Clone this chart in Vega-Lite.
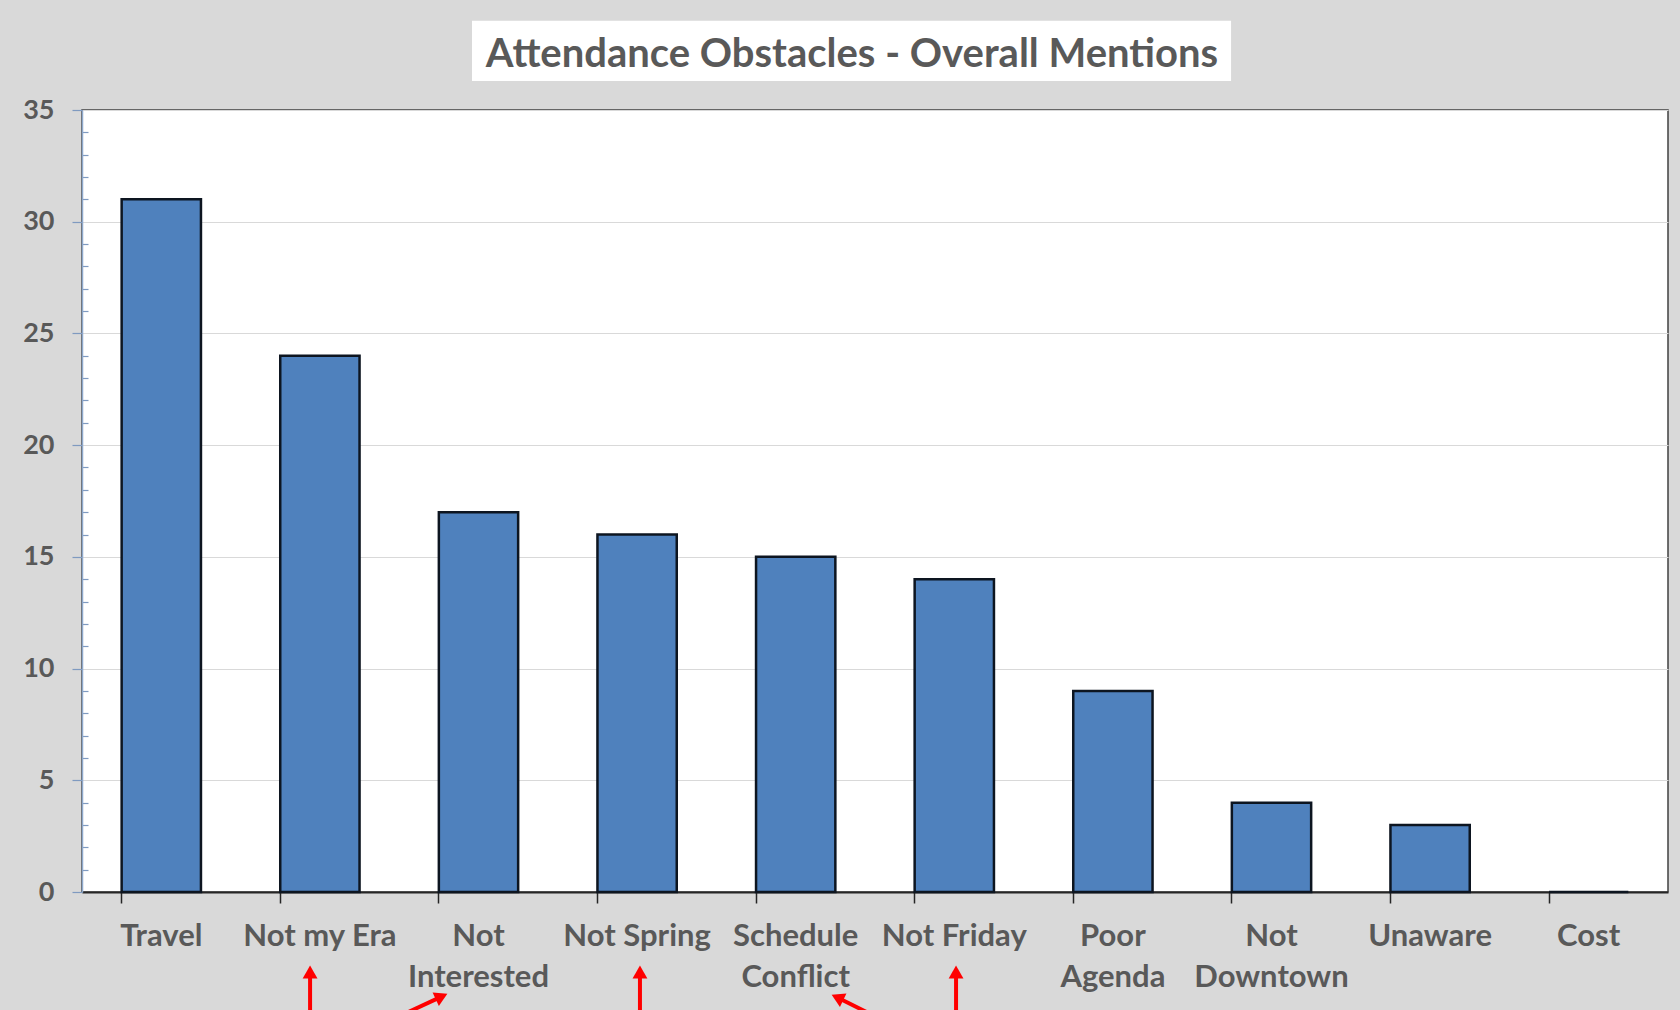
{
  "$schema": "https://vega.github.io/schema/vega-lite/v6.json",
  "width": 1586,
  "height": 782,
  "autosize": "none",
  "padding": {"left": 82, "top": 110, "right": 12, "bottom": 118},
  "background": "#D9D9D9",
  "title": {
    "text": "Attendance Obstacles - Overall Mentions",
    "font": "Lato",
    "fontWeight": "bold",
    "fontSize": 40,
    "color": "#595959",
    "anchor": "middle",
    "frame": "group",
    "offset": -54,
    "dx": -23
  },
  "datasets": {
    "bars": [
      {"obstacle": "Travel", "mentions": 31},
      {"obstacle": "Not my Era", "mentions": 24},
      {"obstacle": "Not Interested", "mentions": 17},
      {"obstacle": "Not Spring", "mentions": 16},
      {"obstacle": "Schedule Conflict", "mentions": 15},
      {"obstacle": "Not Friday", "mentions": 14},
      {"obstacle": "Poor Agenda", "mentions": 9},
      {"obstacle": "Not Downtown", "mentions": 4},
      {"obstacle": "Unaware", "mentions": 3},
      {"obstacle": "Cost", "mentions": 0}
    ],
    "titlebox": [
      {"u0": 2.459, "u1": 7.245, "v0": 36.3, "v1": 39.0}
    ],
    "arrows": [
      {"target": "Not my Era", "u_tip": 1.438, "v_tip": -3.58, "u_tail": 1.438, "v_tail": -6.0, "dir": 0},
      {"target": "Not Interested", "u_tip": 2.267, "v_tip": -4.68, "u_tail": 1.98, "v_tail": -5.63, "dir": 65},
      {"target": "Not Spring", "u_tip": 3.518, "v_tip": -3.58, "u_tail": 3.518, "v_tail": -6.0, "dir": 0},
      {"target": "Schedule Conflict", "u_tip": 4.763, "v_tip": -4.72, "u_tail": 5.019, "v_tail": -5.63, "dir": 296},
      {"target": "Not Friday", "u_tip": 5.511, "v_tip": -3.58, "u_tail": 5.511, "v_tail": -6.0, "dir": 0}
    ]
  },
  "layer": [
    {
      "data": {"name": "bars"},
      "mark": {"type": "bar", "fill": "#4F81BD", "stroke": "#0D1520", "strokeWidth": 2.5},
      "encoding": {
        "x": {
          "field": "obstacle",
          "type": "nominal",
          "sort": null,
          "scale": {"paddingInner": 0.5, "paddingOuter": 0.25},
          "axis": {
            "title": null,
            "labelAngle": 0,
            "labelFont": "Lato",
            "labelFontWeight": "bold",
            "labelFontSize": 31,
            "labelColor": "#595959",
            "labelPadding": 18,
            "labelLineHeight": 41,
            "labelExpr": "length(datum.label) > 10 ? split(datum.label, ' ') : datum.label",
            "bandPosition": 0,
            "tickSize": 11,
            "tickWidth": 1.5,
            "tickColor": "#262626",
            "domainColor": "#262626",
            "domainWidth": 2,
            "grid": false
          }
        },
        "y": {
          "field": "mentions",
          "type": "quantitative",
          "scale": {"domain": [0, 35], "nice": false},
          "axis": {
            "title": null,
            "values": [0,1,2,3,4,5,6,7,8,9,10,11,12,13,14,15,16,17,18,19,20,21,22,23,24,25,26,27,28,29,30,31,32,33,34,35],
            "labelExpr": "datum.value % 5 === 0 ? datum.label : ''",
            "labelFont": "Lato",
            "labelFontWeight": "bold",
            "labelFontSize": 27,
            "labelColor": "#595959",
            "labelPadding": 18,
            "tickSize": {"condition": {"test": "datum.value % 5 === 0", "value": 10}, "value": -6},
            "tickColor": "#7F9AC0",
            "tickWidth": 1.2,
            "domainColor": "#8EA9CC",
            "domainWidth": 1.5,
            "grid": true,
            "gridColor": {"condition": {"test": "datum.value % 5 === 0", "value": "#D9D9D9"}, "value": "rgba(0,0,0,0)"},
            "gridWidth": 1.2
          }
        }
      }
    },
    {
      "data": {"name": "titlebox"},
      "mark": {"type": "rect", "fill": "#FFFFFF"},
      "encoding": {
        "x": {"field": "u0", "type": "quantitative", "scale": {"domain": [0, 10], "nice": false, "zero": false}, "axis": null},
        "x2": {"field": "u1"},
        "y": {"field": "v0", "type": "quantitative", "scale": {"domain": [0, 35], "nice": false}, "axis": null},
        "y2": {"field": "v1"}
      }
    },
    {
      "data": {"name": "arrows"},
      "mark": {"type": "rule", "color": "#FF0000", "strokeWidth": 4},
      "encoding": {
        "x": {"field": "u_tip", "type": "quantitative", "scale": {"domain": [0, 10], "nice": false, "zero": false}, "axis": null},
        "x2": {"field": "u_tail"},
        "y": {"field": "v_tip", "type": "quantitative", "scale": {"domain": [0, 35], "nice": false}, "axis": null},
        "y2": {"field": "v_tail"}
      }
    },
    {
      "data": {"name": "arrows"},
      "mark": {"type": "point", "shape": "triangle-up", "filled": true, "color": "#FF0000", "size": 220, "opacity": 1},
      "encoding": {
        "x": {"field": "u_tip", "type": "quantitative", "scale": {"domain": [0, 10], "nice": false, "zero": false}, "axis": null},
        "y": {"field": "v_tip", "type": "quantitative", "scale": {"domain": [0, 35], "nice": false}, "axis": null},
        "angle": {"field": "dir", "type": "quantitative", "scale": null}
      }
    }
  ],
  "resolve": {"scale": {"x": "independent", "y": "independent"}},
  "config": {
    "view": {"fill": "#FFFFFF", "stroke": "#404040", "strokeWidth": 1.5}
  }
}
